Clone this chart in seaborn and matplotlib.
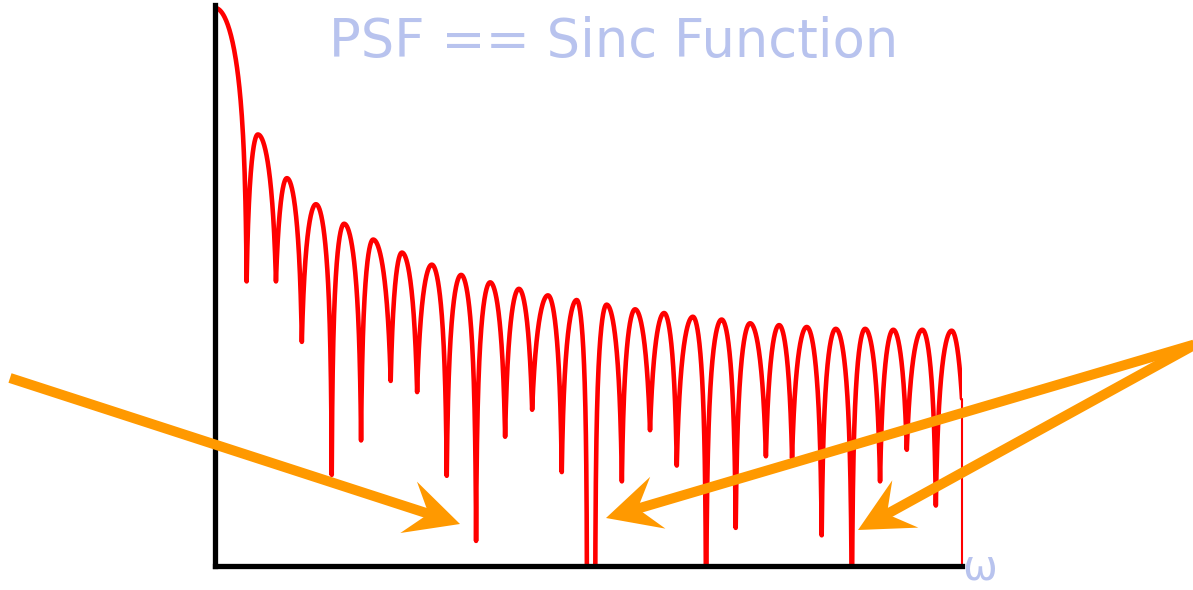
import numpy as np
import pandas as pd
import matplotlib
matplotlib.use('Agg')
import matplotlib.pyplot as plt
import seaborn as sns
from matplotlib.lines import Line2D
from matplotlib.patches import Polygon

# lobe peaks (omega, dB); the 14th one sits below the axis
peak_w = [0.0, 1.49, 2.50, 3.51, 4.49, 5.50, 6.50, 7.54, 8.56, 9.57, 10.57, 11.58, 12.58,
          13.08, 13.62, 14.61, 15.62, 16.62, 17.62, 18.61, 19.62, 20.58, 21.59, 22.61,
          23.59, 24.60, 25.62]
peak_db = [0.0, -13.6, -18.3, -21.1, -23.2, -24.9, -26.3, -27.6, -28.7, -29.5, -30.2, -30.9,
           -31.4, -64.0, -31.9, -32.4, -32.8, -33.2, -33.5, -33.9, -34.1, -34.3, -34.5,
           -34.5, -34.6, -34.6, -34.7]
# dips following each peak (last entry = where the trace is cut off)
dip_w = [1.10, 2.12, 3.02, 4.06, 5.08, 6.11, 7.03, 8.06, 9.08, 10.09, 11.03, 12.06, 12.94,
         13.22, 14.15, 15.13, 16.06, 17.08, 18.11, 19.16, 20.07, 21.10, 22.15, 23.13,
         24.06, 25.07, 25.98]
dip_db = [-29.4, -29.4, -35.9, -50.2, -46.5, -40.1, -41.3, -50.3, -57.3, -46.1, -43.2, -49.9,
          -70.0, -70.0, -50.9, -45.4, -49.2, -70.0, -55.9, -48.2, -48.4, -56.7, -70.0,
          -50.9, -47.5, -53.5, -42.0]

title = 'PSF == Sinc Function'
x_label = 'ω'
y_floor = -60.0

# annotation arrows, image pixel positions (tail, tip)
arrow_tails = [(10, 378), (1196, 344), (1196, 344)]
arrow_tips = [(460, 524), (606, 518), (858, 530)]

TEXT_COLOR = '#B8C3EE'
ARROW_COLOR = '#FF9900'


def half_lobe(wp, yp, wd, yd, n=80, rising=False):
    # log-magnitude arch from a peak down to a dip
    u = np.linspace(1, 0, n)
    r = 10 ** ((yd - yp) / 20)
    b = r / (1 - r)
    y = yp + 20 * np.log10(np.sin(np.pi / 2 * u) + b) - 20 * np.log10(1 + b)
    x = wd + u * (wp - wd)
    if rising:
        return x[::-1], y[::-1]
    return x, y


xs, ys = [], []
for i in range(len(peak_w)):
    if i > 0:
        x, y = half_lobe(peak_w[i], peak_db[i], dip_w[i - 1], dip_db[i - 1], rising=True)
        xs.append(x); ys.append(y)
    x, y = half_lobe(peak_w[i], peak_db[i], dip_w[i], dip_db[i])
    xs.append(x); ys.append(y)
df = pd.DataFrame({'w': np.concatenate(xs), 'db': np.concatenate(ys)})

sns.set_style('white')
plt.rcParams['font.family'] = ['DejaVu Sans']

W, H = 1193, 590
fig = plt.figure(figsize=(W / 100, H / 100), dpi=100)
ax = fig.add_axes([215 / W, (H - 566) / H, (962 - 215) / W, 561 / H])
ax.patch.set_alpha(0)

sns.lineplot(data=df, x='w', y='db', sort=False, estimator=None, color='red',
             lw=3.3, ax=ax)
# thin drop at the right end of the trace
ax.plot([dip_w[-1], dip_w[-1]], [dip_db[-1], y_floor], color='red', lw=1.5,
        clip_on=False)

ax.set_xlim(0, dip_w[-1])
ax.set_ylim(y_floor, 0.32)
ax.set_xticks([])
ax.set_yticks([])
ax.set_xlabel('')
ax.set_ylabel('')
for side in ['top', 'right']:
    ax.spines[side].set_visible(False)
for side in ['left', 'bottom']:
    ax.spines[side].set_color('black')
    ax.spines[side].set_linewidth(3.8)
    ax.spines[side].set_zorder(5)

fig.text(614 / W, 1 - 57 / H, title, ha='center', va='baseline', fontsize=38,
         color=TEXT_COLOR)
fig.text(980 / W, 1 - 580 / H, x_label, ha='center', va='baseline', fontsize=30,
         color=TEXT_COLOR)


def draw_arrow(tail, tip, head_len=54, head_half=27, notch=33, lw_px=10):
    tail = np.array(tail, float)
    tip = np.array(tip, float)
    d = (tip - tail) / np.hypot(*(tip - tail))
    p = np.array([-d[1], d[0]])
    back = tip - d * notch
    b1 = tip - d * head_len + p * head_half
    b2 = tip - d * head_len - p * head_half
    end = back + d * 4

    def to_fig(q):
        return (q[0] / W, 1 - q[1] / H)

    fig.add_artist(Line2D([tail[0] / W, end[0] / W], [1 - tail[1] / H, 1 - end[1] / H],
                          transform=fig.transFigure, lw=lw_px * 0.72, color=ARROW_COLOR,
                          solid_capstyle='butt', zorder=10))
    fig.add_artist(Polygon([to_fig(q) for q in (tip, b1, back, b2)], closed=True,
                           transform=fig.transFigure, color=ARROW_COLOR, lw=0, zorder=11))


for t, h in zip(arrow_tails, arrow_tips):
    draw_arrow(t, h)

fig.savefig('out.png', dpi=100)
